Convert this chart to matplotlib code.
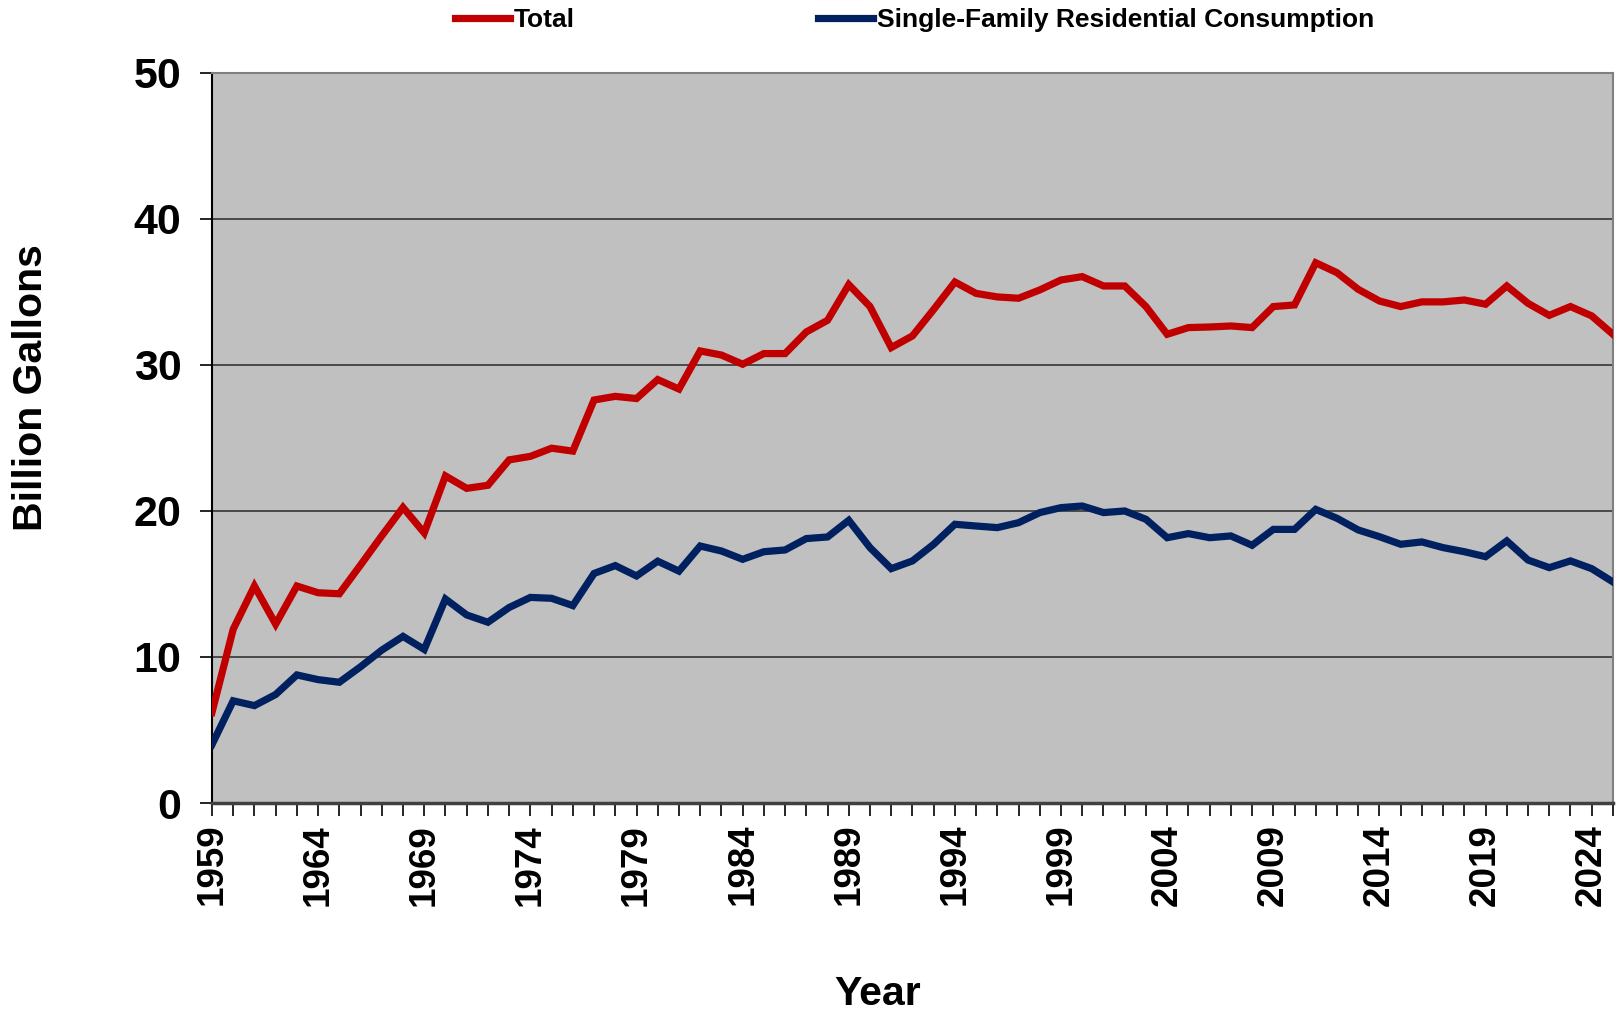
#!/usr/bin/env python3
"""Annual water consumption: total vs single-family residential."""

import matplotlib
matplotlib.use("Agg")
from matplotlib import pyplot as plt

plt.rcParams["font.family"] = ["Liberation Sans", "DejaVu Sans"]
plt.rcParams["font.weight"] = "bold"

years = list(range(1959, 2026))
tick_years = list(range(1959, 2026, 5))

total = [
    6.2, 11.9, 14.86, 12.25, 14.86, 14.4, 14.33, 16.3, 18.3, 20.24,
    18.5, 22.4, 21.55, 21.76, 23.5, 23.74, 24.3, 24.1, 27.6, 27.85,
    27.7, 29.0, 28.35, 30.96, 30.68, 30.05, 30.78, 30.78, 32.26, 33.06,
    35.5, 34.0, 31.19, 31.99, 33.8, 35.68, 34.9, 34.66, 34.57, 35.14,
    35.82, 36.05, 35.41, 35.41, 34.0, 32.1, 32.56, 32.6, 32.67, 32.56,
    34.0, 34.11, 37.0, 36.32, 35.18, 34.38, 34.0, 34.32, 34.32, 34.45,
    34.16, 35.41, 34.22, 33.4, 34.0, 33.36, 32.1,
]
single_family = [
    4.0, 7.0, 6.67, 7.43, 8.77, 8.45, 8.27, 9.33, 10.47, 11.41,
    10.52, 13.97, 12.88, 12.38, 13.39, 14.08, 14.02, 13.52, 15.72, 16.26,
    15.55, 16.56, 15.88, 17.6, 17.26, 16.69, 17.21, 17.33, 18.11, 18.22,
    19.36, 17.49, 16.05, 16.58, 17.72, 19.09, 18.97, 18.86, 19.2, 19.89,
    20.23, 20.34, 19.89, 20.0, 19.43, 18.17, 18.45, 18.17, 18.29, 17.65,
    18.74, 18.74, 20.11, 19.5, 18.7, 18.24, 17.72, 17.88, 17.49, 17.21,
    16.87, 17.95, 16.64, 16.12, 16.58, 16.05, 15.14,
]

RED = "#C00000"
BLUE = "#002060"


def main() -> None:
    fig = plt.figure(figsize=(16.23, 10.13), dpi=100)
    ax = fig.add_axes([0.1306, 0.2073, 0.8632, 0.7207])
    ax.set_facecolor("#C0C0C0")

    ax.plot(years, total, color=RED, lw=5.2, label="Total", solid_joinstyle="miter", zorder=3)
    ax.plot(years, single_family, color=BLUE, lw=5.2,
            label="Single-Family Residential Consumption", solid_joinstyle="miter", zorder=3)

    ax.set_xlim(1959, 2025)
    ax.set_ylim(0, 50)
    ax.set_yticks(range(0, 51, 10))
    ax.yaxis.grid(True, color="#404040", lw=1.3)
    ax.set_axisbelow(True)

    ax.set_xticks(years)
    ax.set_xticklabels([str(y) if y in tick_years else "" for y in years],
                       rotation=90, fontsize=26.5, fontweight="bold")
    ax.tick_params(axis="x", length=9, width=1.2, pad=6, color="black")
    ax.tick_params(axis="y", labelsize=31, length=9, width=1.2, pad=13)

    for side in ("top", "right"):
        ax.spines[side].set_color("#808080")
        ax.spines[side].set_linewidth(1.5)
    ax.spines["left"].set_color("black")
    ax.spines["left"].set_linewidth(1.5)
    ax.spines["bottom"].set_color("#404040")
    ax.spines["bottom"].set_linewidth(2.5)

    fig.text(0.019, 0.617, "Billion Gallons", rotation=90, ha="center", va="center",
             fontsize=29.5, fontweight="bold")
    fig.text(0.541, 0.019, "Year", ha="center", va="center", fontsize=29.5, fontweight="bold")

    fig.legend(loc="center", bbox_to_anchor=(0.5635, 0.980), ncol=2, frameon=False,
               fontsize=19, handlelength=2.1, handletextpad=0.15, columnspacing=9.2,
               borderaxespad=0)

    fig.savefig("out.png", dpi=100)


if __name__ == "__main__":
    main()
